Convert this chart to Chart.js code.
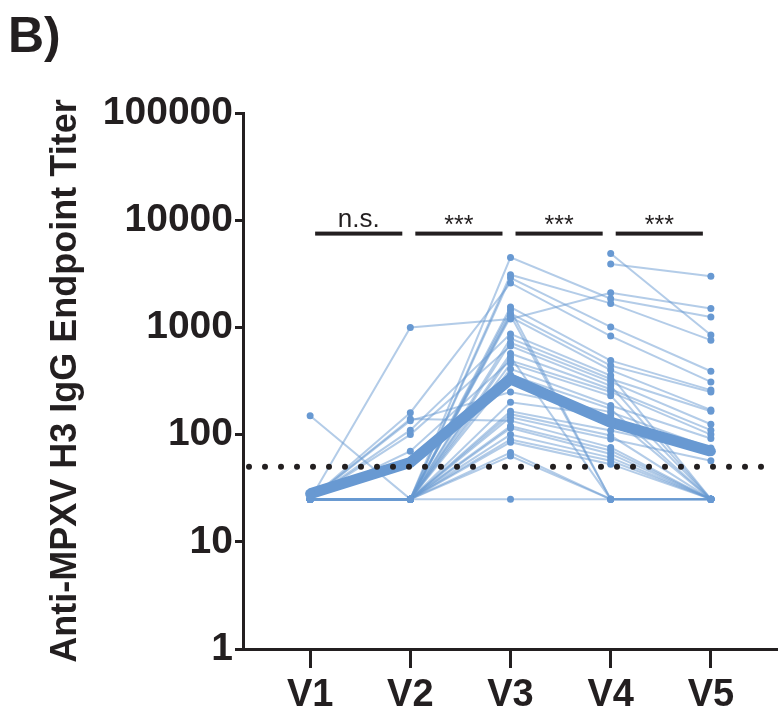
<!DOCTYPE html>
<html>
<head>
<meta charset="utf-8">
<script src="https://cdn.jsdelivr.net/npm/chart.js@4.4.1/dist/chart.umd.min.js"></script>
<style>
  body { margin: 0; background: #fff; }
  #wrap { position: relative; width: 782px; height: 713px; }
</style>
</head>
<body>
<div id="wrap"><canvas id="titerChart"></canvas></div>
<script>
// Visits and per-subject titers (one entry per subject, same index in every array)
const visits = ['V1', 'V2', 'V3', 'V4', 'V5'];
const titerV1 = [25, 25, 25, 25, 25, 25, 25, 25, 25, 25, 25, 25, 25, 25, 25, 25, 25, 25,
                 25, 25, 25, 25, 25, 150, 25, 25, 25, 25, 25, 25, 25, 25, 25, 25, 25, 25];
const titerV2 = [25, 25, 1000, 25, 25, 25, 160, 25, 25, 25, 25, 110, 25, 25, 100, 25, 25, 70,
                 25, 25, 25, 135, 25, 25, 25, 25, 140, 25, 25, 25, 25, 25, 25, 25, 25, 25];
const titerV3 = [null, null, 1200, 4500, 3100, 2900, 2600, 1550, 1450, 1350, 1250, 870, 790, 720, 670, 570, 530, 490,
                 460, 410, 360, 250, 200, 165, 155, 145, 135, 120, 115, 100, 90, 85, 68, 63, 25, 1300];
const titerV4 = [4900, 3900, 2100, 1850, 1675, 1010, 830, 490, 25, 440, 400, 355, 330, 310, 285, 265, 25, 250,
                 230, 187, 174, 162, 150, 109, 98, 91, 76, 71, 66, 61, 57, 53, 25, 25, 25, 25];
const titerV5 = [850, 3000, 1500, 1250, 760, 390, 310, 260, 25, 250, 170, 25, 165, 125, 25, 110, 25, 100,
                 25, 92, 25, 75, 25, 68, 25, 57, 25, 25, 25, 25, 25, 25, 25, 25, 25, 25];
const meanTiter = [28, 55, 330, 130, 70];
const cutoff = 50;
const yTicks = [1, 10, 100, 1000, 10000, 100000];
const sigLabels = ['n.s.', '***', '***', '***'];
const sigLevel = 7500;

const blue = 'rgb(104, 153, 210)';
const lightBlue = 'rgba(104, 153, 210, 0.5)';
const ink = '#231f20';
const columns = [titerV1, titerV2, titerV3, titerV4, titerV5];

const datasets = [{
    data: meanTiter.map((y, j) => ({ x: j + 1, y: y })),
    borderColor: blue,
    borderWidth: 11,
    pointRadius: 5,
    pointBackgroundColor: blue,
    pointBorderWidth: 0,
    order: 0
}];
for (let i = 0; i < titerV1.length; i++) {
    datasets.push({
        data: columns.map((col, j) => ({ x: j + 1, y: col[i] })),
        borderColor: lightBlue,
        borderWidth: 2,
        pointRadius: 3.5,
        pointBackgroundColor: blue,
        pointBorderWidth: 0,
        spanGaps: false,
        order: 1
    });
}

// Dotted cutoff line, significance bars and the panel letter
const extras = {
    id: 'extras',
    afterDatasetsDraw(chart) {
        const ctx = chart.ctx;
        const ys = chart.scales.y;
        const area = chart.chartArea;
        const yc = ys.getPixelForValue(cutoff);
        ctx.save();
        ctx.strokeStyle = ink;
        ctx.lineWidth = 6;
        ctx.lineCap = 'round';
        ctx.setLineDash([0, 16]);
        ctx.beginPath();
        ctx.moveTo(area.left + 6, yc);
        ctx.lineTo(area.right, yc);
        ctx.stroke();
        ctx.restore();
    },
    afterDraw(chart) {
        const ctx = chart.ctx;
        const xs = chart.scales.x, ys = chart.scales.y;
        const yb = ys.getPixelForValue(sigLevel);
        ctx.save();
        ctx.fillStyle = ink;
        sigLabels.forEach((lab, i) => {
            const x0 = xs.getPixelForValue(i + 1.05);
            const x1 = xs.getPixelForValue(i + 1.92);
            ctx.fillRect(x0, yb - 2, x1 - x0, 4);
            ctx.font = lab === 'n.s.' ? '26px "Liberation Sans", Arial' : '25px "Liberation Sans", Arial';
            ctx.textAlign = 'center';
            ctx.textBaseline = 'alphabetic';
            ctx.fillText(lab, (x0 + x1) / 2, lab === 'n.s.' ? yb - 7 : yb - 1);
        });
        ctx.font = 'bold 50px "Liberation Sans", Arial';
        ctx.textAlign = 'left';
        ctx.fillText('B)', 8, 52);
        ctx.restore();
    }
};

new Chart(document.getElementById('titerChart'), {
    type: 'line',
    data: { datasets: datasets },
    plugins: [extras],
    options: {
        responsive: true,
        maintainAspectRatio: false,
        animation: false,
        layout: { padding: { top: 113, right: 0, left: 0, bottom: 0 } },
        plugins: { legend: { display: false }, tooltip: { enabled: false } },
        scales: {
            x: {
                type: 'linear',
                min: 0.33,
                max: 5.66,
                afterBuildTicks: (axis) => { axis.ticks = visits.map((v, j) => ({ value: j + 1 })); },
                afterFit: (axis) => { axis.height = 64; },
                border: { display: true, color: ink, width: 3 },
                grid: { drawOnChartArea: false, drawTicks: true, tickLength: 19, tickWidth: 3, tickColor: ink },
                ticks: {
                    color: ink,
                    padding: 5,
                    maxRotation: 0,
                    font: { family: '"Liberation Sans", Arial', size: 38, weight: 'bold' },
                    callback: (val) => visits[val - 1]
                }
            },
            y: {
                type: 'logarithmic',
                min: 1,
                max: 100000,
                afterBuildTicks: (axis) => { axis.ticks = yTicks.map(v => ({ value: v })); },
                afterFit: (axis) => { axis.width = 243; },
                border: { display: true, color: ink, width: 3 },
                grid: { drawOnChartArea: false, drawTicks: true, tickLength: 8, tickWidth: 3, tickColor: ink },
                ticks: {
                    color: ink,
                    padding: 2,
                    font: { family: '"Liberation Sans", Arial', size: 39, weight: 'bold' },
                    callback: (val) => String(val)
                },
                title: {
                    display: true,
                    text: 'Anti-MPXV H3 IgG Endpoint Titer',
                    color: ink,
                    font: { family: '"Liberation Sans", Arial', size: 36, weight: 'bold' },
                    padding: { top: 44, bottom: 0 }
                }
            }
        }
    }
});
</script>
</body>
</html>
